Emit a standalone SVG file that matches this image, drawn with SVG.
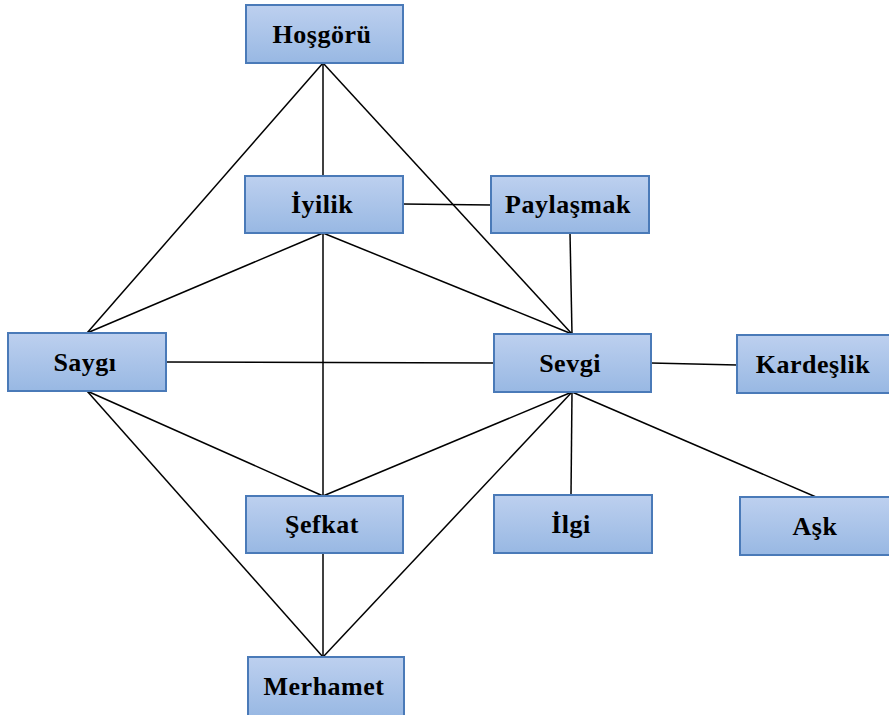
<svg xmlns="http://www.w3.org/2000/svg" width="889" height="715" viewBox="0 0 889 715">
<defs>
<linearGradient id="g" x1="0" y1="0" x2="0" y2="1">
<stop offset="0" stop-color="#bdd0ef"/>
<stop offset="1" stop-color="#98b8e3"/>
</linearGradient>
<style>
.n rect{fill:url(#g);stroke:#4a7ab8;stroke-width:2}
.n text{font-family:"Liberation Serif","Times New Roman",serif;font-weight:bold;font-size:26px;letter-spacing:0.5px;fill:#000;text-anchor:middle;dominant-baseline:central}
#edges line{stroke:#000;stroke-width:1.5}
</style>
</defs>
<rect width="889" height="715" fill="#fff"/>
<g id="edges">
<line x1="323" y1="63" x2="323" y2="176"/>
<line x1="323" y1="63" x2="87" y2="333"/>
<line x1="323" y1="63" x2="572" y2="334"/>
<line x1="403" y1="204" x2="491" y2="205"/>
<line x1="323" y1="233" x2="87" y2="333"/>
<line x1="323" y1="233" x2="572" y2="334"/>
<line x1="323" y1="233" x2="323" y2="496"/>
<line x1="570" y1="233" x2="572" y2="334"/>
<line x1="166" y1="362" x2="494" y2="363"/>
<line x1="651" y1="363" x2="737" y2="365"/>
<line x1="87" y1="391" x2="323" y2="496"/>
<line x1="87" y1="391" x2="323" y2="657"/>
<line x1="572" y1="392" x2="323" y2="496"/>
<line x1="572" y1="392" x2="571" y2="495"/>
<line x1="572" y1="392" x2="816" y2="497"/>
<line x1="572" y1="392" x2="323" y2="657"/>
<line x1="323" y1="553" x2="323" y2="657"/>
</g>
<g id="hosgoru" class="n"><rect x="246" y="5" width="157" height="58"/><text x="322" y="34">Hoşgörü</text></g>
<g id="iyilik" class="n"><rect x="245" y="176" width="158" height="57"/><text x="322" y="204.5">İyilik</text></g>
<g id="paylasmak" class="n"><rect x="491" y="176" width="158" height="57"/><text x="568" y="204.5">Paylaşmak</text></g>
<g id="saygi" class="n"><rect x="8" y="333" width="158" height="58"/><text x="85" y="362">Saygı</text></g>
<g id="sevgi" class="n"><rect x="494" y="334" width="157" height="58"/><text x="570" y="363">Sevgi</text></g>
<g id="kardeslik" class="n"><rect x="737" y="335" width="154" height="58"/><text x="813" y="364">Kardeşlik</text></g>
<g id="sefkat" class="n"><rect x="246" y="496" width="157" height="57"/><text x="322" y="524.5">Şefkat</text></g>
<g id="ilgi" class="n"><rect x="494" y="495" width="158" height="58"/><text x="571" y="524">İlgi</text></g>
<g id="ask" class="n"><rect x="740" y="497" width="151" height="58"/><text x="815" y="526">Aşk</text></g>
<g id="merhamet" class="n"><rect x="248" y="657" width="156" height="60"/><text x="324" y="686">Merhamet</text></g>
</svg>
